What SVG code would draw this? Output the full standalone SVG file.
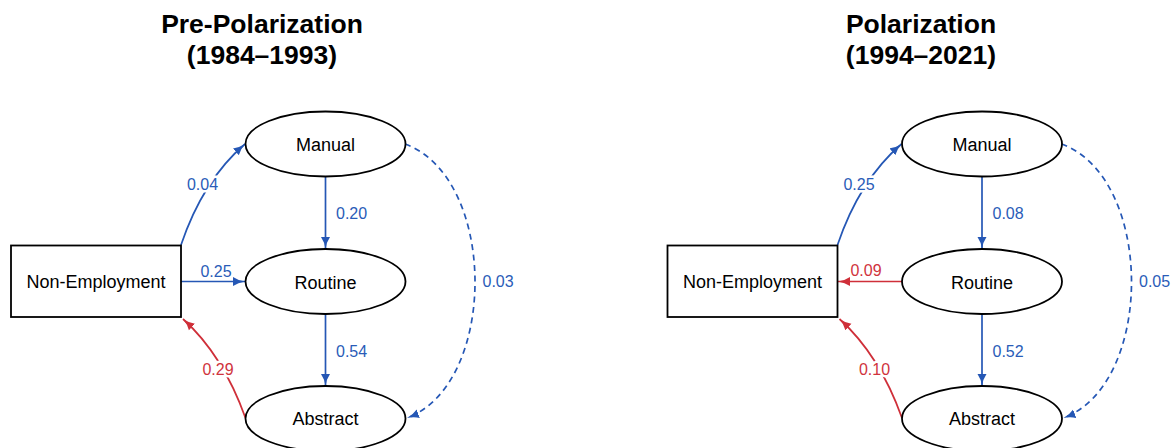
<svg xmlns="http://www.w3.org/2000/svg" width="1175" height="448" viewBox="0 0 1175 448">
<style>
.title{font-family:"Liberation Sans",Arial,sans-serif;font-weight:bold;font-size:26.5px;fill:#000;text-anchor:middle}
.node{fill:#fff;stroke:#000;stroke-width:1.8}
.nt{font-family:"Liberation Sans",Arial,sans-serif;font-size:18px;fill:#000;text-anchor:middle}
.e{fill:none;stroke-width:1.7}
.blue{stroke:#2557b5}
.red{stroke:#cf2f39}
.dash{stroke-dasharray:6,4.5}
.lb{font-family:"Liberation Sans",Arial,sans-serif;font-size:16px;paint-order:stroke;stroke:#fff;stroke-width:5px;stroke-linejoin:round}
.lbb{fill:#2a5cb8}
.lbr{fill:#d0333d}
</style>
<defs>
<marker id="ab" markerUnits="userSpaceOnUse" markerWidth="13" markerHeight="10" refX="12" refY="5" orient="auto"><path d="M0,0.5 Q5,4 12,5 Q5,6 0,9.5 Z" fill="#2557b5"/></marker>
<marker id="ar" markerUnits="userSpaceOnUse" markerWidth="13" markerHeight="10" refX="12" refY="5" orient="auto"><path d="M0,0.5 Q5,4 12,5 Q5,6 0,9.5 Z" fill="#cf2f39"/></marker>
</defs>
<text class="title" x="262" y="33">Pre-Polarization</text>
<text class="title" x="262" y="64">(1984–1993)</text>
<text class="title" x="921" y="33">Polarization</text>
<text class="title" x="921" y="64">(1994–2021)</text>
<g id="connectors">
<path class="e blue" d="M181,245 Q203,180 245,144" marker-end="url(#ab)"/>
<path class="e blue" d="M325.5,177 L325.5,249" marker-end="url(#ab)"/>
<path class="e blue" d="M181,281.5 L245,281.5" marker-end="url(#ab)"/>
<path class="e blue" d="M325.5,314 L325.5,386" marker-end="url(#ab)"/>
<path class="e red" d="M245.5,418 Q223,355 183,319" marker-end="url(#ar)"/>
<path class="e blue dash" d="M405,144 C498,178 498,384 407,418" marker-end="url(#ab)"/>
<text class="lb lbb" x="202.5" y="190" text-anchor="middle">0.04</text>
<text class="lb lbb" x="336" y="219">0.20</text>
<text class="lb lbb" x="216" y="276.5" text-anchor="middle">0.25</text>
<text class="lb lbb" x="336" y="356.5">0.54</text>
<text class="lb lbr" x="218" y="375" text-anchor="middle">0.29</text>
<text class="lb lbb" x="482.5" y="287">0.03</text>
<path class="e blue" d="M837.5,245 Q859.5,180 901.5,144" marker-end="url(#ab)"/>
<path class="e blue" d="M982,177 L982,249" marker-end="url(#ab)"/>
<path class="e red" d="M902,281.5 L838,281.5" marker-end="url(#ar)"/>
<path class="e blue" d="M982,314 L982,386" marker-end="url(#ab)"/>
<path class="e red" d="M902,418 Q879.5,355 839.5,319" marker-end="url(#ar)"/>
<path class="e blue dash" d="M1061.5,144 C1154.5,178 1154.5,384 1063.5,418" marker-end="url(#ab)"/>
<text class="lb lbb" x="859" y="189.5" text-anchor="middle">0.25</text>
<text class="lb lbb" x="992.5" y="218.5">0.08</text>
<text class="lb lbr" x="866" y="276" text-anchor="middle">0.09</text>
<text class="lb lbb" x="992.5" y="356.5">0.52</text>
<text class="lb lbr" x="874.5" y="375" text-anchor="middle">0.10</text>
<text class="lb lbb" x="1139" y="287">0.05</text>
</g>
<g id="pre-nonemp"><rect class="node" x="11" y="245.5" width="170" height="71.5"/><text class="nt" x="96" y="287.5">Non-Employment</text></g>
<g id="pre-manual"><ellipse class="node" cx="325.5" cy="144" rx="80" ry="32.5"/><text class="nt" x="325.5" y="151">Manual</text></g>
<g id="pre-routine"><ellipse class="node" cx="325.5" cy="281.5" rx="80" ry="32.5"/><text class="nt" x="325.5" y="288.5">Routine</text></g>
<g id="pre-abstract"><ellipse class="node" cx="325.5" cy="418.5" rx="80" ry="32.5"/><text class="nt" x="325.5" y="425">Abstract</text></g>
<g id="pol-nonemp"><rect class="node" x="667.5" y="245.5" width="170" height="71.5"/><text class="nt" x="752.5" y="287.5">Non-Employment</text></g>
<g id="pol-manual"><ellipse class="node" cx="982" cy="144" rx="80" ry="32.5"/><text class="nt" x="982" y="151">Manual</text></g>
<g id="pol-routine"><ellipse class="node" cx="982" cy="281.5" rx="80" ry="32.5"/><text class="nt" x="982" y="288.5">Routine</text></g>
<g id="pol-abstract"><ellipse class="node" cx="982" cy="418.5" rx="80" ry="32.5"/><text class="nt" x="982" y="425">Abstract</text></g>
</svg>
